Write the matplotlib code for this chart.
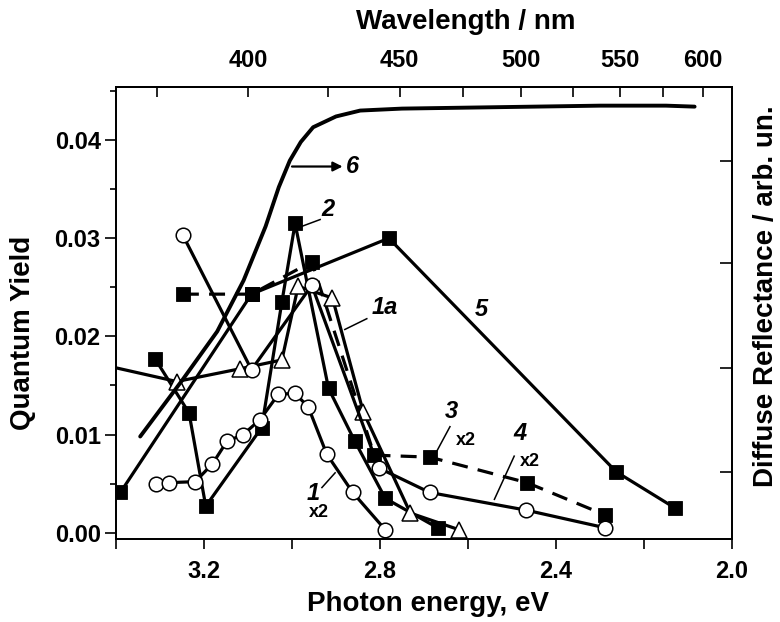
import numpy as np
import matplotlib
matplotlib.use("Agg")
import matplotlib.pyplot as plt
from matplotlib.ticker import FixedLocator, MultipleLocator, FormatStrFormatter, NullFormatter

plt.rcParams['font.family'] = ['Liberation Sans', 'DejaVu Sans']
plt.rcParams['font.weight'] = 'bold'

# ---------------- data (photon energy eV, quantum yield) ----------------
s1_E = [3.31, 3.28, 3.22, 3.181, 3.148, 3.111, 3.073, 3.031, 2.993, 2.963, 2.921, 2.862, 2.788]
s1_Y = [0.0050, 0.0051, 0.0052, 0.0070, 0.0093, 0.0100, 0.0115, 0.0141, 0.0142, 0.0128, 0.0080, 0.0041, 0.0003]

s1a_E = [3.45, 3.262, 3.118, 3.023, 2.986, 2.908, 2.838, 2.731, 2.62]
s1a_Y = [0.0173, 0.0154, 0.0167, 0.0176, 0.0251, 0.0239, 0.0123, 0.0020, 0.0003]

s2_E = [3.311, 3.234, 3.196, 3.069, 3.023, 2.993, 2.917, 2.857, 2.788, 2.669]
s2_Y = [0.0177, 0.0122, 0.0027, 0.0107, 0.0235, 0.0315, 0.0147, 0.0093, 0.0035, 0.0005]

s3_E = [3.248, 3.092, 2.955, 2.813, 2.687, 2.466, 2.288]
s3_Y = [0.0243, 0.0243, 0.0276, 0.0079, 0.0077, 0.0051, 0.0018]

s4_E = [3.248, 3.092, 2.955, 2.803, 2.687, 2.468, 2.288]
s4_Y = [0.0303, 0.0166, 0.0252, 0.0066, 0.0041, 0.0023, 0.0005]

s5_E = [3.39, 3.092, 2.78, 2.263, 2.129]
s5_Y = [0.0041, 0.0243, 0.0300, 0.0062, 0.0025]

# diffuse reflectance (arb. units, drawn on right axis)
s6_E = [3.345, 3.25, 3.17, 3.11, 3.06, 3.03, 3.005, 2.98, 2.952, 2.90, 2.845,
        2.75, 2.60, 2.45, 2.30, 2.15, 2.085]
s6_R = [0.0098, 0.0155, 0.0205, 0.0257, 0.0312, 0.0352, 0.0379, 0.0398, 0.0413, 0.0424, 0.0430,
        0.0432, 0.0433, 0.0434, 0.0435, 0.0435, 0.0434]

x_ticks = [3.2, 2.8, 2.4, 2.0]
x_minor = [3.4, 3.0, 2.6, 2.2]
wl_ticks = [400, 450, 500, 550, 600]
wl_minor = [375, 425, 475, 525, 575]
right_ticks = [0.0379, 0.0275, 0.0168, 0.0062]

# ---------------- figure ----------------
fig = plt.figure(figsize=(7.8, 6.22), dpi=100)
ax = fig.add_axes([116/780, 1-539/622, (732-116)/780, (539-87)/622])
ax.set_xlim(3.4, 2.0)
ax.set_ylim(-0.00064, 0.0454)

LW = 2.3
def series(E, Y, marker, filled, ls='-', ms=9.5, z=3):
    kw = dict(color='black', lw=LW, ls=ls, marker=marker, ms=ms,
              mfc='black' if filled else 'white', mec='black',
              mew=0.6 if filled else 1.1, zorder=z, solid_joinstyle='round')
    if ls == '--':
        kw['dashes'] = (5, 3.2)
    ax.plot(E, Y, **kw)

series(s5_E, s5_Y, 's', True, ms=9.5)
series(s3_E, s3_Y, 's', True, ls='--', ms=9.5)
series(s2_E, s2_Y, 's', True, ms=9.5)
series(s1a_E, s1a_Y, '^', False, ms=11)
series(s4_E, s4_Y, 'o', False, ms=10.5)
series(s1_E, s1_Y, 'o', False, ms=10.5)

# twin axis for reflectance
ax2 = ax.twinx()
ax2.set_ylim(ax.get_ylim())
ax2.plot(s6_E, s6_R, color='black', lw=2.8, solid_joinstyle='round', solid_capstyle='round', zorder=2)
ax2.yaxis.set_major_locator(FixedLocator(right_ticks))
ax2.yaxis.set_major_formatter(NullFormatter())
ax2.tick_params(axis='y', direction='in', length=9, width=1.2)
for sp in ax2.spines.values():
    sp.set_linewidth(1.3)

# axis ticks
ax.yaxis.set_major_locator(MultipleLocator(0.01))
ax.yaxis.set_minor_locator(MultipleLocator(0.005))
ax.yaxis.set_major_formatter(FormatStrFormatter('%.2f'))
ax.xaxis.set_major_locator(FixedLocator(x_ticks))
ax.xaxis.set_minor_locator(FixedLocator(x_minor))
ax.xaxis.set_major_formatter(FormatStrFormatter('%.1f'))
ax.tick_params(axis='y', which='major', direction='out', length=8, width=1.2, labelsize=17, pad=3, right=False)
ax.tick_params(axis='y', which='minor', direction='out', length=4.5, width=1.2, right=False)
ax.tick_params(axis='x', which='both', direction='out', length=7, width=1.2, labelsize=17, pad=8, top=False)
for sp in ax.spines.values():
    sp.set_linewidth(1.3)

def ev2nm(e):
    e = np.asarray(e, dtype=float)
    with np.errstate(divide='ignore'):
        return np.where(e == 0, 1e9, 1240.0 / np.where(e == 0, 1, e))

sec = ax.secondary_xaxis('top', functions=(ev2nm, ev2nm))
sec.xaxis.set_major_locator(FixedLocator(wl_ticks))
sec.xaxis.set_minor_locator(FixedLocator(wl_minor))
sec.xaxis.set_major_formatter(FormatStrFormatter('%d'))
sec.tick_params(axis='x', which='both', direction='in', length=7, width=1.2, labelsize=17, pad=11)
sec.spines['top'].set_linewidth(1.3)

# axis labels
fig.text(428/780, 1-604/622, 'Photon energy, eV', ha='center', va='center', fontsize=20, fontweight='bold')
fig.text(466/780, 1-22/622, 'Wavelength / nm', ha='center', va='center', fontsize=20, fontweight='bold')
fig.text(23/780, 1-333/622, 'Quantum Yield', ha='center', va='center', rotation=90, fontsize=20, fontweight='bold')
fig.text(766/780, 1-296/622, 'Diffuse Reflectance / arb. un.', ha='center', va='center', rotation=90, fontsize=20, fontweight='bold')

# curve labels
lab = dict(fontsize=17, fontweight='bold', fontstyle='italic', ha='center', va='center', zorder=6)
small = dict(fontsize=13, fontweight='bold', ha='center', va='center', zorder=6)
ax.text(2.918, 0.0329, '2', **lab)
ax.plot([2.978, 2.936], [0.0312, 0.0319], color='black', lw=1.1, zorder=5)
ax.text(2.862, 0.0373, '6', **lab)
ax.annotate('', xy=(2.885, 0.0373), xytext=(3.0, 0.0373),
            arrowprops=dict(arrowstyle='-|>', color='black', lw=1.6, mutation_scale=14, shrinkA=0, shrinkB=0))
ax.text(2.79, 0.0229, '1a', **lab)
ax.plot([2.83, 2.88], [0.0218, 0.0207], color='black', lw=1.1, zorder=5)
ax.text(2.569, 0.0227, '5', **lab)
ax.text(2.637, 0.0123, '3', **lab)
ax.text(2.604, 0.0094, 'x2', **small)
ax.plot([2.641, 2.671], [0.0108, 0.0083], color='black', lw=1.1, zorder=5)
ax.text(2.482, 0.0101, '4', **lab)
ax.text(2.46, 0.0073, 'x2', **small)
ax.plot([2.495, 2.54], [0.0078, 0.0034], color='black', lw=1.1, zorder=5)
ax.text(2.952, 0.0040, '1', **lab)
ax.text(2.94, 0.0021, 'x2', **small)
ax.plot([2.932, 2.902], [0.0046, 0.0061], color='black', lw=1.1, zorder=5)

fig.savefig('out.png', dpi=100)
